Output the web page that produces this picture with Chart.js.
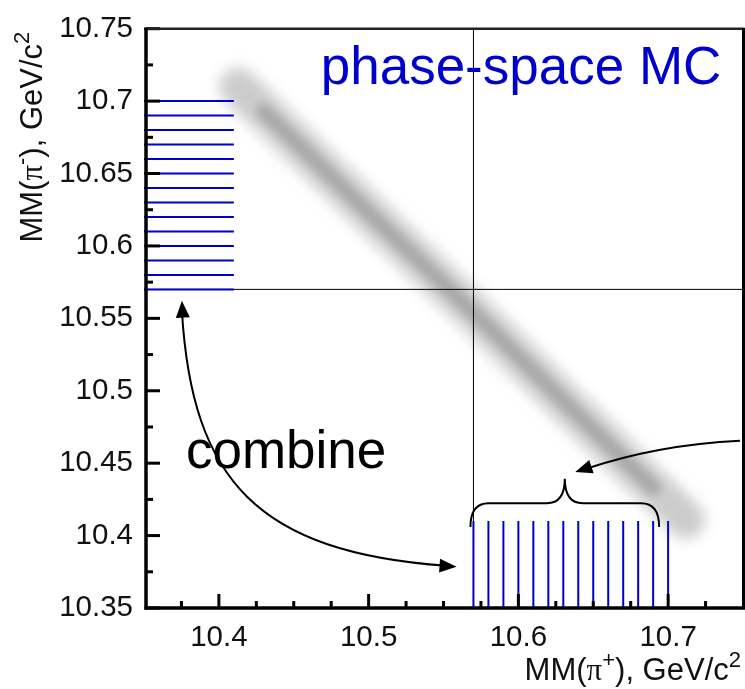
<!DOCTYPE html>
<html><head><meta charset="utf-8">
<script src="https://cdn.jsdelivr.net/npm/chart.js@4.4.1/dist/chart.umd.min.js"></script>
<style>html,body{margin:0;padding:0;background:#fff;overflow:hidden}#wrap{width:745px;height:689px}</style>
</head><body><div id="wrap"><canvas id="c" width="745" height="689"></canvas></div>
<script>
// ---------- data ----------
const xRange = [10.35, 10.75];
const yRange = [10.35, 10.75];
const xTickValues = [10.4, 10.5, 10.6, 10.7];
const xTickLabels = ['10.4', '10.5', '10.6', '10.7'];
const xMinorTicks = [10.375, 10.425, 10.45, 10.475, 10.525, 10.55, 10.575, 10.625, 10.65, 10.675, 10.725];
const yTickValues = [10.35, 10.4, 10.45, 10.5, 10.55, 10.6, 10.65, 10.7, 10.75];
const yTickLabels = ['10.35', '10.4', '10.45', '10.5', '10.55', '10.6', '10.65', '10.7', '10.75'];
const yMinorTicks = [10.375, 10.425, 10.475, 10.525, 10.575, 10.625, 10.675, 10.725];
const cutValue = 10.57;
const binEdges = [10.57, 10.58, 10.59, 10.60, 10.61, 10.62, 10.63, 10.64, 10.65, 10.66, 10.67, 10.68, 10.69, 10.70];
const binStubEnd = 10.41;
// centre line of the phase-space MC band
const bandX = [10.413, 10.43, 10.50, 10.57, 10.64, 10.69, 10.712];
const bandY = [10.710, 10.693, 10.623, 10.554, 10.483, 10.433, 10.411];
// annotations (data units)
const titleText = 'phase-space MC';
const titlePos = [10.468, 10.7115];
const combineText = 'combine';
const combinePos = [10.378, 10.4466];
const arrowRight = [[10.748, 10.4655], [10.6933, 10.4628], [10.638, 10.4439]];
const arrowCombine = [[10.3753, 10.5622], [10.382, 10.4372], [10.4267, 10.3885], [10.5587, 10.3784]];
const braceX = [10.568, 10.631, 10.694];
const braceY = [10.406, 10.4223, 10.4392];

const BLUE = '#0000cc';
Chart.defaults.font.family = "'Liberation Sans', Arial, sans-serif";

const pts = (xs, ys) => xs.map((v, i) => ({x: v, y: ys[i]}));
const hSegs = [], vSegs = [];
binEdges.forEach(v => {
  hSegs.push({x: xRange[0], y: v}, {x: binStubEnd, y: v}, {x: binStubEnd, y: null});
  vSegs.push({x: v, y: yRange[0]}, {x: v, y: binStubEnd}, {x: v, y: null});
});
const cross = [{x: cutValue, y: yRange[0]}, {x: cutValue, y: yRange[1]}, {x: cutValue, y: null},
               {x: xRange[0], y: cutValue}, {x: xRange[1], y: cutValue}];

const lineDs = (label, data, color, width, order, extra) => Object.assign({
  label, data, showLine: true, borderColor: color, borderWidth: width, pointRadius: 0,
  fill: false, tension: 0, borderCapStyle: 'butt', spanGaps: false, order
}, extra || {});

function drawRich(ctx, parts, x, y, align) {
  let w = 0;
  parts.forEach(p => { ctx.font = p.font; w += ctx.measureText(p.t).width; });
  let cx = align === 'right' ? x - w : x;
  parts.forEach(p => { ctx.font = p.font; ctx.fillText(p.t, cx, y - (p.rise || 0)); cx += ctx.measureText(p.t).width; });
}

const softBand = {
  id: 'softBand',
  beforeDatasetDraw(chart, args) {
    const ds = chart.data.datasets[args.index];
    if (ds.blur) chart.ctx.filter = 'blur(' + ds.blur + 'px)';
  },
  afterDatasetDraw(chart) { chart.ctx.filter = 'none'; }
};

const overlay = {
  id: 'overlay',
  afterDraw(chart) {
    const {ctx, chartArea: a, scales: {x, y}} = chart;
    const X = v => x.getPixelForValue(v), Y = v => y.getPixelForValue(v);
    ctx.save();
    ctx.strokeStyle = '#000'; ctx.fillStyle = '#000'; ctx.lineCap = 'butt';
    const seg = (x1, y1, x2, y2) => { ctx.beginPath(); ctx.moveTo(x1, y1); ctx.lineTo(x2, y2); ctx.stroke(); };
    const axL = a.left + 2, axB = a.bottom;
    // ticks (inward)
    ctx.lineWidth = 3;
    yTickValues.forEach(v => seg(axL, Y(v), axL + 14, Y(v)));
    yMinorTicks.forEach(v => seg(axL, Y(v), axL + 7, Y(v)));
    xTickValues.forEach(v => seg(X(v), axB, X(v), axB - 14));
    xMinorTicks.forEach(v => seg(X(v), axB, X(v), axB - 7));
    // frame
    ctx.lineWidth = 2.5; ctx.strokeStyle = '#222';
    seg(a.left, a.top, a.right, a.top);
    ctx.lineWidth = 3; ctx.strokeStyle = '#000';
    seg(a.right + 0.5, a.top - 1, a.right + 0.5, axB);
    ctx.lineWidth = 3.5;
    seg(axL, a.top - 1, axL, axB + 1.5);
    seg(axL - 1.5, axB, a.right + 2, axB);
    // brace
    ctx.lineWidth = 2;
    const bl = X(braceX[0]), bm = X(braceX[1]), br = X(braceX[2]);
    const ye = Y(braceY[0]), yb = Y(braceY[1]), yt = Y(braceY[2]);
    const c = 18;
    ctx.beginPath();
    ctx.moveTo(bl, ye);
    ctx.quadraticCurveTo(bl, yb, bl + c, yb);
    ctx.lineTo(bm - c, yb);
    ctx.quadraticCurveTo(bm, yb, bm, yt);
    ctx.quadraticCurveTo(bm, yb, bm + c, yb);
    ctx.lineTo(br - c, yb);
    ctx.quadraticCurveTo(br, yb, br, ye);
    ctx.stroke();
    // arrows
    const head = (tx, ty, fx, fy) => {
      const dx = tx - fx, dy = ty - fy, L = Math.hypot(dx, dy), ux = dx / L, uy = dy / L;
      const len = 17, hw = 7;
      ctx.beginPath();
      ctx.moveTo(tx, ty);
      ctx.lineTo(tx - ux * len - uy * hw, ty - uy * len + ux * hw);
      ctx.lineTo(tx - ux * len + uy * hw, ty - uy * len - ux * hw);
      ctx.closePath(); ctx.fill();
    };
    ctx.lineWidth = 2;
    const r = arrowRight.map(p => [X(p[0]), Y(p[1])]);
    ctx.beginPath(); ctx.moveTo(r[0][0], r[0][1]);
    ctx.quadraticCurveTo(r[1][0], r[1][1], r[2][0] + 10, r[2][1] - 3); ctx.stroke();
    head(r[2][0], r[2][1], r[1][0], r[1][1]);
    const q = arrowCombine.map(p => [X(p[0]), Y(p[1])]);
    ctx.beginPath(); ctx.moveTo(q[0][0], q[0][1] + 10);
    ctx.bezierCurveTo(q[1][0], q[1][1], q[2][0], q[2][1], q[3][0] - 10, q[3][1] - 1); ctx.stroke();
    head(q[0][0], q[0][1], q[1][0], q[1][1]);
    head(q[3][0], q[3][1], q[2][0], q[2][1]);
    // texts
    ctx.textBaseline = 'alphabetic'; ctx.textAlign = 'left';
    ctx.fillStyle = BLUE; ctx.font = "53px 'Liberation Sans', Arial, sans-serif";
    ctx.fillText(titleText, X(titlePos[0]), Y(titlePos[1]));
    ctx.fillStyle = '#000'; ctx.font = "53px 'Liberation Sans', Arial, sans-serif";
    ctx.fillText(combineText, X(combinePos[0]), Y(combinePos[1]));
    // axis titles
    const F = "31px 'Liberation Sans', Arial, sans-serif", FP = "31px 'Liberation Serif', serif", FS = "22px 'Liberation Sans', Arial, sans-serif";
    ctx.fillStyle = '#111';
    drawRich(ctx, [{t: 'MM(', font: F}, {t: 'π', font: FP}, {t: '+', font: FS, rise: 13}, {t: '), GeV/c', font: F}, {t: '2', font: FS, rise: 13}],
      chart.width - 4, 680, 'right');
    ctx.save();
    ctx.translate(42, a.top + 3);
    ctx.rotate(-Math.PI / 2);
    drawRich(ctx, [{t: 'MM(', font: F}, {t: 'π', font: FP}, {t: '-', font: FS, rise: 13}, {t: '), GeV/c', font: F}, {t: '2', font: FS, rise: 13}],
      0, 0, 'right');
    ctx.restore();
    ctx.restore();
  }
};

new Chart(document.getElementById('c'), {
  type: 'scatter',
  data: {
    datasets: [
      lineDs('MC band', pts(bandX, bandY), 'rgba(0,0,0,0.2)', 38, 30, {blur: 7, borderCapStyle: 'round'}),
      lineDs('MC band core', pts(bandX.slice(1, 6), bandY.slice(1, 6)), 'rgba(0,0,0,0.17)', 16, 29, {blur: 4, borderCapStyle: 'round'}),
      lineDs('cuts', cross, '#000', 1, 10),
      lineDs('MM(pi-) bins', hSegs, BLUE, 2, 1),
      lineDs('MM(pi+) bins', vSegs, BLUE, 2, 1)
    ]
  },
  options: {
    responsive: false, animation: false, events: [],
    layout: {padding: {top: 17, right: 2, left: 0, bottom: 0}},
    plugins: {legend: {display: false}, tooltip: {enabled: false}},
    scales: {
      x: {
        type: 'linear', min: xRange[0], max: xRange[1],
        afterBuildTicks: s => { s.ticks = xTickValues.map(v => ({value: v})); },
        afterFit: s => { s.height = 81; },
        grid: {display: false, drawTicks: false}, border: {display: false},
        ticks: {autoSkip: false, maxRotation: 0, padding: 12, color: '#111',
          font: {size: 29.5}, callback: (v, i) => xTickLabels[i]}
      },
      y: {
        type: 'linear', min: yRange[0], max: yRange[1],
        afterBuildTicks: s => { s.ticks = yTickValues.map(v => ({value: v})); },
        afterFit: s => { s.width = 144; },
        grid: {display: false, drawTicks: false}, border: {display: false},
        ticks: {autoSkip: false, padding: 11, color: '#111',
          font: {size: 29.5}, callback: (v, i) => yTickLabels[i]}
      }
    }
  },
  plugins: [softBand, overlay]
});
</script></body></html>
